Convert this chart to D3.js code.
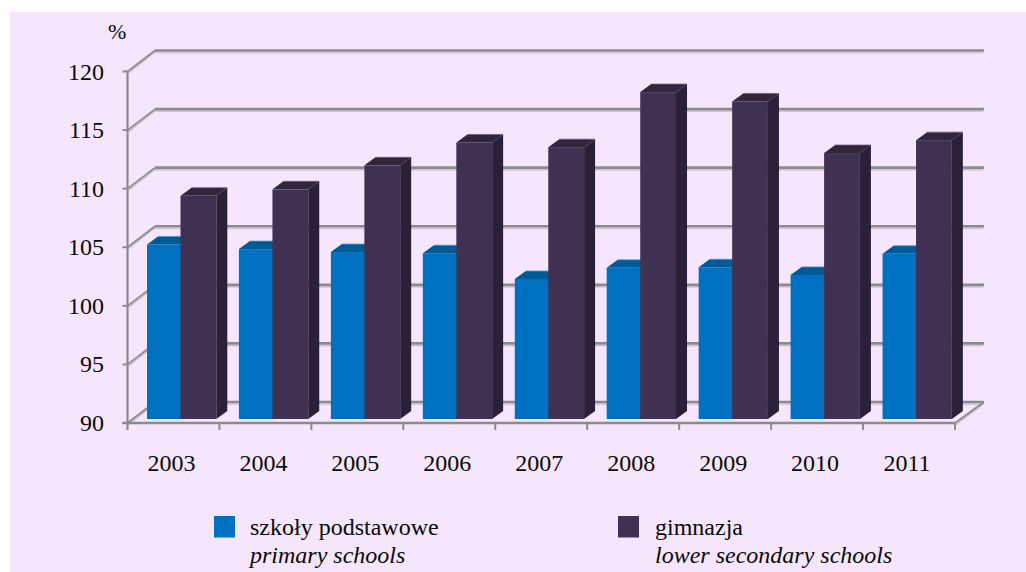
<!DOCTYPE html>
<html><head><meta charset="utf-8">
<script src="https://cdn.jsdelivr.net/npm/d3@7/dist/d3.min.js"></script>
<style>html,body{margin:0;padding:0;background:#fff}svg{display:block}text{font-family:"Liberation Serif","Times New Roman",serif;fill:#0a0a0a}</style>
</head><body><svg id="c" width="1026" height="572"></svg>
<script>
const years = ["2003","2004","2005","2006","2007","2008","2009","2010","2011"];
const primary = [104.9,104.5,104.25,104.15,101.95,102.9,102.95,102.3,104.1];
const lowerSecondary = [109.05,109.6,111.65,113.6,113.2,117.9,117.1,112.7,113.8];
const yTicks = [90,95,100,105,110,115,120];
const legendLabels = [["szkoły podstawowe","primary schools"],["gimnazja","lower secondary schools"]];
const seriesColors = [
  {front:"#0070c0",top:"#005a96",side:"#00508a",edge:"#4a9ad8"},
  {front:"#403152",top:"#32263f",side:"#2a2038",edge:"#6a5a80"}
];
const svg = d3.select("#c");
svg.append("rect").attr("x",10).attr("y",12).attr("width",1016).attr("height",560).attr("fill","#f5e6fd");

const x = d3.scaleBand().domain(years).range([127.5,955]);
const y = d3.scaleLinear().domain([90,120]).range([423,71.5]);
const wall = {dx:27.5, dy:-21}, barDepth = {dx:11, dy:-8}, lift = -4;
const inner = d3.scaleLinear().domain([0,1]).range([19.5,53]);
const barW = 35.8;
const wallRight = x.range()[1]+wall.dx+1.5;

const grid = svg.append("g");
grid.selectAll(".s").data(yTicks).join("line")
  .attr("x1",x.range()[0]+wall.dx).attr("x2",wallRight-1)
  .attr("y1",d=>y(d)+wall.dy+2.2).attr("y2",d=>y(d)+wall.dy+2.2)
  .attr("stroke","#cfc6d6").attr("stroke-width",1.6);
grid.selectAll(".g").data(yTicks).join("line")
  .attr("x1",x.range()[0]+wall.dx).attr("x2",wallRight)
  .attr("y1",d=>y(d)+wall.dy).attr("y2",d=>y(d)+wall.dy)
  .attr("stroke","#8c8a8c").attr("stroke-width",2.6);
grid.selectAll(".ds").data(yTicks).join("line")
  .attr("x1",x.range()[0]+1).attr("x2",x.range()[0]+wall.dx)
  .attr("y1",d=>y(d)+1.5).attr("y2",d=>y(d)+wall.dy+1.5)
  .attr("stroke","#c4bdc8").attr("stroke-width",1.5);
grid.selectAll(".d").data(yTicks).join("line")
  .attr("x1",x.range()[0]).attr("x2",x.range()[0]+wall.dx)
  .attr("y1",d=>y(d)).attr("y2",d=>y(d)+wall.dy)
  .attr("stroke","#8c8a8c").attr("stroke-width",1.6);
grid.append("line").attr("x1",x.range()[1]+1).attr("x2",wallRight)
  .attr("y1",y(90)+1.5).attr("y2",y(90)+wall.dy+1.5).attr("stroke","#c4bdc8").attr("stroke-width",1.5);
grid.append("line").attr("x1",x.range()[1]).attr("x2",wallRight)
  .attr("y1",y(90)).attr("y2",y(90)+wall.dy).attr("stroke","#8c8a8c").attr("stroke-width",1.8);

const bars = svg.append("g");
years.forEach((yr,i)=>{
  [primary,lowerSecondary].forEach((vals,s)=>{
    const c = seriesColors[s];
    const x0 = x(yr)+inner(s), x1 = x0+barW;
    const b = y(90)+lift, t = y(vals[i])+lift;
    const g = bars.append("g");
    const {dx,dy} = barDepth;
    g.append("path").attr("fill",c.top)
      .attr("d",d3.line()([[x0,t],[x0+dx,t+dy],[x1+dx,t+dy],[x1,t]])+"Z");
    g.append("line").attr("x1",x0+dx).attr("x2",x1+dx).attr("y1",t+dy).attr("y2",t+dy)
      .attr("stroke",c.edge).attr("stroke-width",0.8);
    g.append("path").attr("fill",c.side)
      .attr("d",d3.line()([[x1,t],[x1+dx,t+dy],[x1+dx,b+dy],[x1,b]])+"Z");
    g.append("rect").attr("x",x0).attr("y",t).attr("width",barW).attr("height",b-t).attr("fill",c.front);
  });
});

const axes = svg.append("g").attr("stroke","#8c8a8c");
axes.append("line").attr("x1",x.range()[0]).attr("x2",x.range()[0]).attr("y1",y(120)-1).attr("y2",y(90)+7).attr("stroke-width",2.2);
axes.append("line").attr("x1",x.range()[0]-5).attr("x2",x.range()[1]).attr("y1",y(90)).attr("y2",y(90)).attr("stroke-width",2.4);
axes.selectAll(".yt").data(yTicks).join("line")
  .attr("x1",x.range()[0]-5).attr("x2",x.range()[0]).attr("y1",d=>y(d)).attr("y2",d=>y(d)).attr("stroke-width",2);
axes.selectAll(".xt").data(years.map(d=>x(d)+x.bandwidth())).join("line")
  .attr("x1",d=>d).attr("x2",d=>d).attr("y1",y(90)).attr("y2",y(90)+7).attr("stroke-width",2);

const fs = 24;
svg.append("g").selectAll("text").data(yTicks).join("text")
  .attr("x",104).attr("y",d=>y(d)+8).attr("text-anchor","end").attr("font-size",fs).text(d=>d);
svg.append("g").selectAll("text").data(years).join("text")
  .attr("x",d=>x(d)+x.bandwidth()/2-2).attr("y",471).attr("text-anchor","middle").attr("font-size",fs).text(d=>d);
svg.append("text").attr("x",108).attr("y",39).attr("font-size",22).text("%");

const lx = [214,618], tx = [250,655];
legendLabels.forEach((l,i)=>{
  svg.append("rect").attr("x",lx[i]).attr("y",516).attr("width",21).attr("height",21.5).attr("fill",seriesColors[i].front);
  svg.append("text").attr("x",tx[i]).attr("y",535).attr("font-size",fs).text(l[0]);
  svg.append("text").attr("x",tx[i]).attr("y",563).attr("font-size",fs).attr("font-style","italic").text(l[1]);
});
</script></body></html>
